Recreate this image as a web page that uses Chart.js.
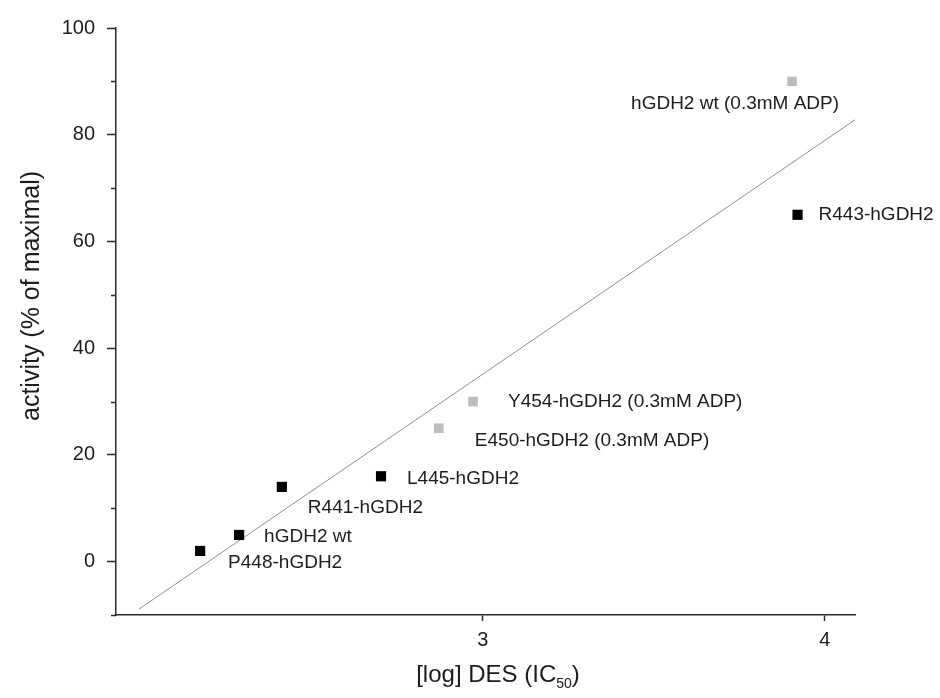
<!DOCTYPE html>
<html>
<head>
<meta charset="utf-8">
<script src="https://cdn.jsdelivr.net/npm/chart.js@4/dist/chart.umd.min.js"></script>
<style>
  html, body { margin: 0; padding: 0; background: #ffffff; }
  #wrap { width: 940px; height: 698px; }
</style>
</head>
<body>
<div id="wrap"><canvas id="c" width="940" height="698"></canvas></div>
<script>
// hGDH2 variants measured without ADP (black squares)
const mutantNames = ['P448-hGDH2', 'hGDH2 wt', 'R441-hGDH2', 'L445-hGDH2', 'R443-hGDH2'];
const mutantLogIC50 = [2.173, 2.287, 2.412, 2.702, 3.920];
const mutantActivity = [2, 5, 14, 16, 65];

// variants measured with 0.3 mM ADP (grey squares)
const adpNames = ['E450-hGDH2 (0.3mM ADP)', 'Y454-hGDH2 (0.3mM ADP)', 'hGDH2 wt (0.3mM ADP)'];
const adpLogIC50 = [2.871, 2.971, 3.904];
const adpActivity = [25, 30, 90];

// end points of the linear fit
const fitLogIC50 = [1.994, 4.088];
const fitActivity = [-8.9, 82.8];

// axis ticks
const xTicks = [3, 4];
const yTicks = [0, 20, 40, 60, 80, 100];
const yMinorTicks = [-10, 10, 30, 50, 70, 90];

// label placement next to each square (pixels, dx / dy)
const mutantLabelOffsets = [[28, 12], [25, 2], [26, 21], [26, 3], [21, 0]];
const adpLabelOffsets = [[36, 13], [35, 0], [-161, 22]];

const FONT = '"Liberation Sans", Arial, Helvetica, sans-serif';
const AXIS = '#2a2a2a';
const TEXT = '#1c1c1c';

const toPoints = (xs, ys) => xs.map((x, i) => ({ x: x, y: ys[i] }));

// text labels beside the squares
const pointLabelPlugin = {
  id: 'pointLabels',
  afterDatasetsDraw(chart) {
    const ctx = chart.ctx;
    ctx.save();
    ctx.font = '19px ' + FONT;
    ctx.fillStyle = TEXT;
    ctx.textAlign = 'left';
    ctx.textBaseline = 'middle';
    chart.data.datasets.forEach((ds, di) => {
      if (!ds.pointNames) return;
      const meta = chart.getDatasetMeta(di);
      meta.data.forEach((el, i) => {
        const off = ds.labelOffsets[i];
        ctx.fillText(ds.pointNames[i], el.x + off[0], el.y + off[1]);
      });
    });
    ctx.restore();
  }
};

// minor y ticks and the axis titles
const axisExtrasPlugin = {
  id: 'axisExtras',
  afterDraw(chart) {
    const ctx = chart.ctx;
    const area = chart.chartArea;
    const ys = chart.scales.y;
    ctx.save();
    ctx.strokeStyle = AXIS;
    ctx.lineWidth = 1.5;
    yMinorTicks.forEach(v => {
      const py = Math.round(ys.getPixelForValue(v)) + 0.5;
      ctx.beginPath();
      ctx.moveTo(area.left - 5, py);
      ctx.lineTo(area.left, py);
      ctx.stroke();
    });

    ctx.fillStyle = TEXT;
    // y title
    ctx.save();
    ctx.translate(area.left - 84, area.top + 268);
    ctx.rotate(-Math.PI / 2);
    ctx.font = '25px ' + FONT;
    ctx.textAlign = 'center';
    ctx.textBaseline = 'middle';
    ctx.fillText('activity (% of maximal)', 0, 0);
    ctx.restore();

    // x title with subscript
    const main = '[log] DES (IC';
    const sub = '50';
    const tail = ')';
    const mainFont = '24px ' + FONT;
    const subFont = '14px ' + FONT;
    ctx.font = mainFont;
    const wMain = ctx.measureText(main).width;
    const wTail = ctx.measureText(tail).width;
    ctx.font = subFont;
    const wSub = ctx.measureText(sub).width;
    const total = wMain + wSub + wTail;
    const cx = area.left + 382;
    const base = area.bottom + 67;
    let x0 = cx - total / 2;
    ctx.textAlign = 'left';
    ctx.textBaseline = 'alphabetic';
    ctx.font = mainFont;
    ctx.fillText(main, x0, base);
    ctx.font = subFont;
    ctx.fillText(sub, x0 + wMain, base + 6);
    ctx.font = mainFont;
    ctx.fillText(tail, x0 + wMain + wSub, base);
    ctx.restore();
  }
};

new Chart(document.getElementById('c'), {
  type: 'scatter',
  data: {
    datasets: [
      {
        type: 'line',
        data: toPoints(fitLogIC50, fitActivity),
        borderColor: '#8e8e8e',
        borderWidth: 1,
        pointRadius: 0,
        fill: false,
        tension: 0,
        order: 3
      },
      {
        data: toPoints(mutantLogIC50, mutantActivity),
        pointStyle: 'rect',
        pointRadius: 7.2,
        pointBorderWidth: 0,
        backgroundColor: '#000000',
        borderColor: '#000000',
        pointNames: mutantNames,
        labelOffsets: mutantLabelOffsets,
        order: 1
      },
      {
        data: toPoints(adpLogIC50, adpActivity),
        pointStyle: 'rect',
        pointRadius: 6.8,
        pointBorderWidth: 0,
        backgroundColor: '#bdbdbd',
        borderColor: '#bdbdbd',
        pointNames: adpNames,
        labelOffsets: adpLabelOffsets,
        order: 2
      }
    ]
  },
  options: {
    responsive: false,
    animation: false,
    devicePixelRatio: 1,
    layout: { padding: { left: 0, top: 28, right: 85, bottom: 0 } },
    plugins: {
      legend: { display: false },
      tooltip: { enabled: false }
    },
    scales: {
      x: {
        type: 'linear',
        min: 1.927,
        max: 4.088,
        afterBuildTicks: s => { s.ticks = xTicks.map(v => ({ value: v })); },
        afterFit: s => { s.height = 83; },
        ticks: {
          font: { family: FONT, size: 20 },
          color: TEXT,
          padding: 7,
          maxRotation: 0
        },
        grid: {
          drawOnChartArea: false,
          drawTicks: true,
          tickLength: 6,
          tickColor: AXIS,
          tickWidth: 1.5
        },
        border: { color: AXIS, width: 1.5 }
      },
      y: {
        type: 'linear',
        min: -10,
        max: 100,
        afterBuildTicks: s => { s.ticks = yTicks.map(v => ({ value: v })); },
        afterFit: s => { s.width = 116; },
        ticks: {
          font: { family: FONT, size: 20 },
          color: TEXT,
          padding: 12
        },
        grid: {
          drawOnChartArea: false,
          drawTicks: true,
          tickLength: 9,
          tickColor: AXIS,
          tickWidth: 1.5
        },
        border: { color: AXIS, width: 1.5 }
      }
    }
  },
  plugins: [pointLabelPlugin, axisExtrasPlugin]
});
</script>
</body>
</html>
